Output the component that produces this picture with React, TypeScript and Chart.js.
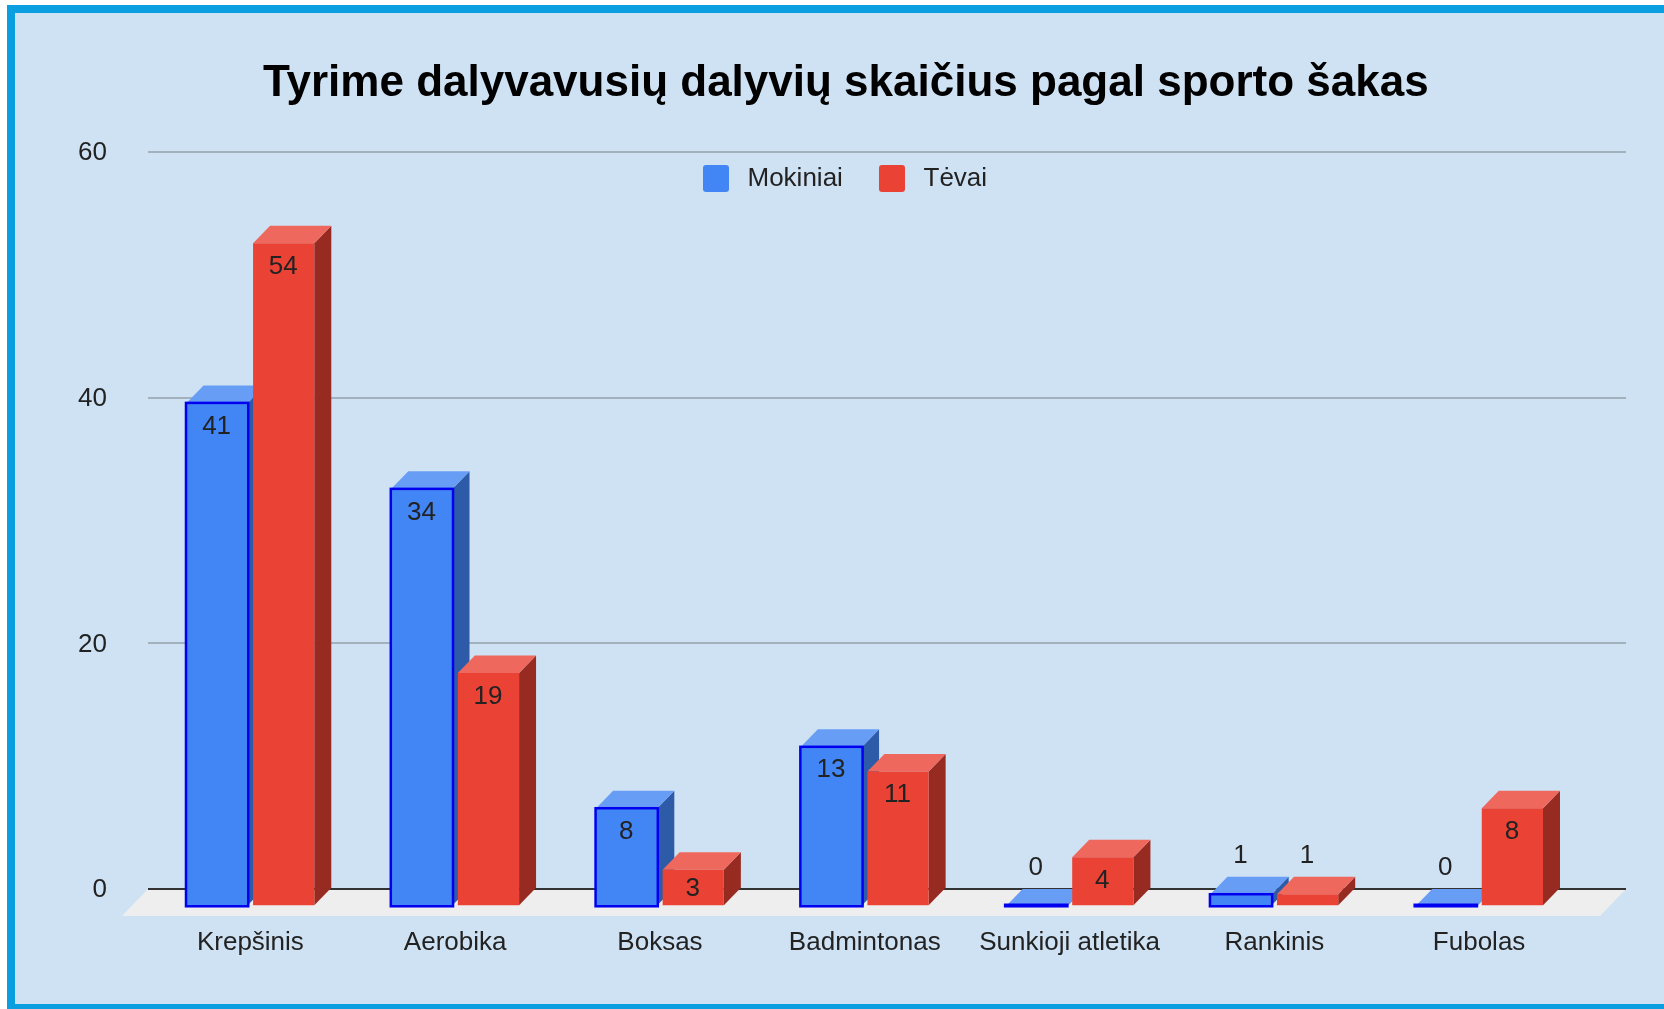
import React, { useEffect, useRef } from "react";
import { Chart, registerables } from "chart.js";

Chart.register(...registerables);

const TITLE = "Tyrime dalyvavusių dalyvių skaičius pagal sporto šakas";
const categories = ["Krepšinis", "Aerobika", "Boksas", "Badmintonas", "Sunkioji atletika", "Rankinis", "Fubolas"];
const mokiniai = [41, 34, 8, 13, 0, 1, 0];
const tevai = [54, 19, 3, 11, 4, 1, 8];
const yTicks = [0, 20, 40, 60];

const FONT = "Arial, 'Liberation Sans', sans-serif";
const FS = 26;
const INK = "#222222";
const STYLE = [
  { front: "#4285f4", top: "#689df6", side: "#2d5ba8" },
  { front: "#ea4335", top: "#ee685d", side: "#982b21" },
];
const OUTLINE = "#0000f0";
// 3D projection
const DX = 17;
const DY = 17.5;
const BAR_FOOT = 0.1;
const PAD_L = 148;
const PAD_R = 1581.5;
const GRID_L = 148;
const GRID_R = 1626;
const FLOOR_L = 122;
const FLOOR_R = 1600;
const FLOOR_DY = 27;

const threeD = {
  id: "threeD",
  afterLayout(chart: any) {
    const shift = 55;
    chart.titleBlock.left += shift;
    chart.titleBlock.right += shift;
  },
  beforeDatasetsDraw(chart: any) {
    const { ctx } = chart;
    const y = chart.scales.y;
    const zero = y.getPixelForValue(0);
    ctx.save();
    // floor
    ctx.fillStyle = "#eeeeee";
    ctx.beginPath();
    ctx.moveTo(GRID_L, zero);
    ctx.lineTo(GRID_R, zero);
    ctx.lineTo(FLOOR_R, zero + FLOOR_DY);
    ctx.lineTo(FLOOR_L, zero + FLOOR_DY);
    ctx.closePath();
    ctx.fill();
    // grid lines
    yTicks.forEach((v) => {
      const py = Math.round(y.getPixelForValue(v));
      ctx.strokeStyle = v === 0 ? "#333333" : "#a3b1bd";
      ctx.lineWidth = 2;
      ctx.beginPath();
      ctx.moveTo(GRID_L, py);
      ctx.lineTo(GRID_R, py);
      ctx.stroke();
    });
    // side and top faces
    [0, 1].forEach((d) => {
      chart.getDatasetMeta(d).data.forEach((el: any) => {
        const { x, y: ty, base, width } = el;
        const l = x - width / 2;
        const r = x + width / 2;
        const top = ty + DY;
        const bot = base + DY;
        ctx.fillStyle = STYLE[d].side;
        ctx.beginPath();
        ctx.moveTo(r, top);
        ctx.lineTo(r + DX, top - DY);
        ctx.lineTo(r + DX, bot - DY);
        ctx.lineTo(r, bot);
        ctx.closePath();
        ctx.fill();
        ctx.fillStyle = STYLE[d].top;
        ctx.beginPath();
        ctx.moveTo(l, top);
        ctx.lineTo(l + DX, top - DY);
        ctx.lineTo(r + DX, top - DY);
        ctx.lineTo(r, top);
        ctx.closePath();
        ctx.fill();
      });
    });
    ctx.restore();
  },
  beforeDatasetDraw(chart: any) {
    chart.ctx.save();
    chart.ctx.translate(0, DY);
  },
  afterDatasetDraw(chart: any) {
    chart.ctx.restore();
  },
  afterDatasetsDraw(chart: any) {
    const { ctx } = chart;
    ctx.save();
    // outline of the first series
    ctx.strokeStyle = OUTLINE;
    ctx.lineWidth = 2.5;
    chart.getDatasetMeta(0).data.forEach((el: any) => {
      const bot = el.base + DY + 1;
      const top = Math.min(el.y + DY, bot - 1.5);
      ctx.strokeRect(el.x - el.width / 2 - 0.5, top, el.width + 1, bot - top);
    });
    // value labels
    ctx.font = `${FS}px ${FONT}`;
    ctx.fillStyle = INK;
    ctx.textAlign = "center";
    ctx.textBaseline = "middle";
    [mokiniai, tevai].forEach((vals, d) => {
      chart.getDatasetMeta(d).data.forEach((el: any, i: number) => {
        const top = el.y + DY;
        const bot = el.base + DY;
        const h = bot - top;
        let ly;
        if (h < 20) ly = el.y - 21;
        else ly = Math.min(top + 23.5, (top + bot) / 2 + 1);
        ctx.fillText(String(vals[i]), el.x - 0.5, ly);
      });
    });
    // legend
    const items = chart.data.datasets;
    const swatchX = [703, 879];
    const textX = [747.5, 923.5];
    const swatchY = 165;
    items.forEach((ds: any, d: number) => {
      ctx.fillStyle = ds.backgroundColor;
      ctx.beginPath();
      ctx.roundRect(swatchX[d], swatchY, 26, 27, 3);
      ctx.fill();
      ctx.fillStyle = INK;
      ctx.textAlign = "left";
      ctx.fillText(ds.label, textX[d], swatchY + 14);
    });
    ctx.restore();
  },
};

export default function App() {
  const ref = useRef<HTMLCanvasElement>(null);
  useEffect(() => {
    document.body.style.margin = "0";
    const chart = new Chart(ref.current as HTMLCanvasElement, {
      type: "bar",
      data: {
        labels: categories,
        datasets: [
          { label: "Mokiniai", data: mokiniai, base: BAR_FOOT, backgroundColor: STYLE[0].front, clip: false as any },
          { label: "Tėvai", data: tevai, base: BAR_FOOT, backgroundColor: STYLE[1].front, clip: false as any },
        ],
      },
      options: {
        animation: false,
        responsive: false,
        categoryPercentage: 0.65,
        barPercentage: 0.92,
        layout: { padding: { left: 0, right: 1664 - PAD_R, top: 0, bottom: 0 } },
        plugins: {
          legend: { display: false },
          tooltip: { enabled: false },
          title: {
            display: true,
            text: TITLE,
            color: "#000000",
            font: { family: FONT, size: 44, weight: "bold", lineHeight: 1.2 },
            padding: { top: 57.6, bottom: 41.6 },
          },
        },
        scales: {
          x: {
            grid: { display: false, drawTicks: false },
            border: { display: false },
            ticks: { color: INK, font: { family: FONT, size: FS }, padding: 38, maxRotation: 0, autoSkip: false },
            afterFit(s: any) { s.height = 1009 - 889; },
          },
          y: {
            min: 0,
            max: 60,
            afterBuildTicks(s: any) { s.ticks = yTicks.map((value) => ({ value })); },
            grid: { display: false, drawTicks: false },
            border: { display: false },
            ticks: { color: INK, font: { family: FONT, size: FS }, padding: 41, labelOffset: 1 },
            afterFit(s: any) { s.width = PAD_L; },
          },
        },
      },
      plugins: [threeD],
    } as any);
    return () => chart.destroy();
  }, []);
  return (
    <div style={{ position: "absolute", left: 0, top: 0, width: 1664, height: 1009, background: "#ffffff", overflow: "hidden" }}>
      <div
        style={{
          position: "absolute",
          left: 7,
          top: 5,
          right: 0,
          bottom: 0,
          boxSizing: "border-box",
          background: "#cfe2f3",
          borderStyle: "solid",
          borderColor: "#0b9ee0",
          borderWidth: "8px 0 5px 8px",
        }}
      />
      <canvas ref={ref} width={1664} height={1009} style={{ position: "absolute", left: 0, top: 0, display: "block" }} />
    </div>
  );
}
